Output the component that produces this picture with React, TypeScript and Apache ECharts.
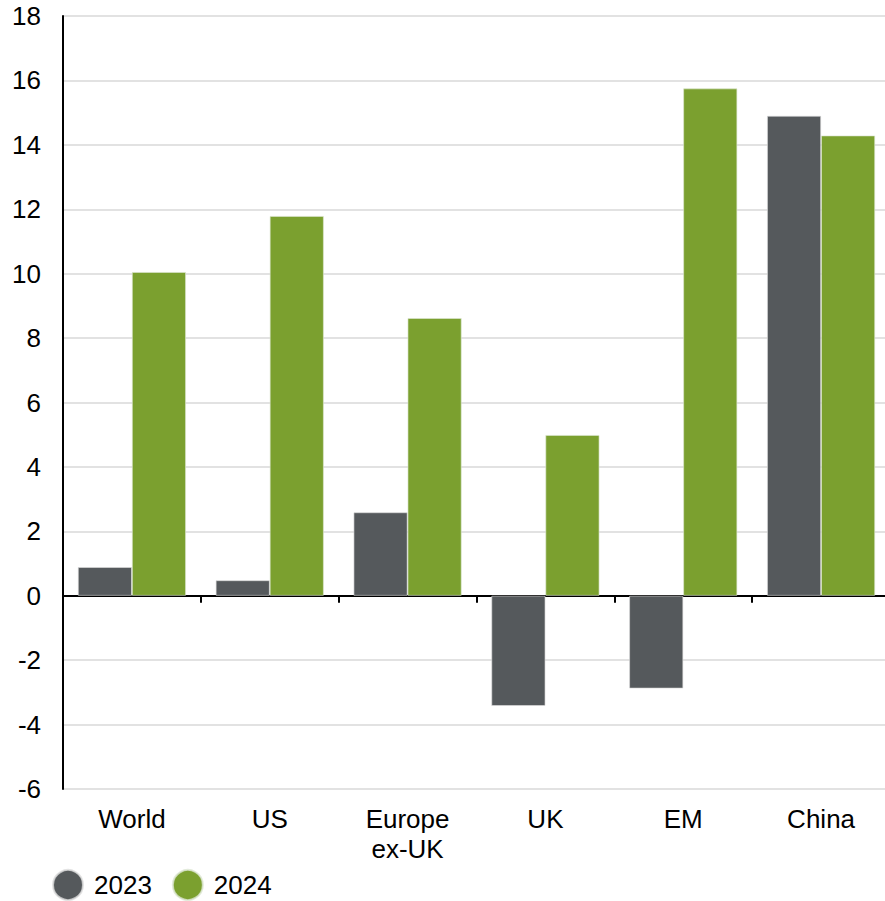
import React, { useEffect, useRef } from "react";
import * as echarts from "echarts";

const categories = ["World", "US", "Europe\nex-UK", "UK", "EM", "China"];
const series2023 = [0.89, 0.48, 2.59, -3.42, -2.88, 14.9];
const series2024 = [10.05, 11.79, 8.62, 4.99, 15.75, 14.29];
const seriesNames = ["2023", "2024"];
const yTicks = { min: -6, max: 18, interval: 2 };

const FONT = "'Liberation Sans', Arial, Helvetica, sans-serif";
const GRAY = "#55595c";
const GREEN = "#7ba02f";

export default function App() {
  const ref = useRef<HTMLDivElement>(null);
  useEffect(() => {
    if (!ref.current) return;
    const chart = echarts.init(ref.current, null, { renderer: "svg" });
    chart.setOption({
      animation: false,
      textStyle: { fontFamily: FONT },
      grid: { left: 63, top: 16, width: 827, height: 773, containLabel: false },
      legend: {
        left: 47,
        top: 864,
        icon: "circle",
        itemWidth: 30,
        itemHeight: 30,
        itemGap: 20,
        data: seriesNames,
        textStyle: { fontSize: 26, color: "#000", fontFamily: FONT, padding: [0, 0, 0, 6] },
      },
      xAxis: [
        {
          type: "category",
          data: categories,
          axisLine: { onZero: true, lineStyle: { color: "#000", width: 2 } },
          axisTick: { show: true, length: 7, lineStyle: { color: "#000", width: 2 } },
          axisLabel: { show: false },
          splitLine: { show: false },
        },
        {
          type: "category",
          data: categories,
          position: "bottom",
          axisLine: { show: false, onZero: false },
          axisTick: { show: false },
          axisLabel: {
            show: true,
            fontSize: 26,
            color: "#000",
            fontFamily: FONT,
            margin: 15,
            lineHeight: 30,
            interval: 0,
          },
        },
      ],
      yAxis: {
        type: "value",
        min: yTicks.min,
        max: yTicks.max,
        interval: yTicks.interval,
        axisLine: { show: true, lineStyle: { color: "#000", width: 2 } },
        axisTick: { show: false },
        axisLabel: { fontSize: 26, color: "#000", fontFamily: FONT, margin: 22 },
        splitLine: { show: true, lineStyle: { color: "#d9d9d9", width: 1.5 } },
      },
      series: [
        {
          name: seriesNames[0],
          type: "bar",
          xAxisIndex: 0,
          data: series2023,
          barGap: "0%",
          barCategoryGap: "21.6%",
          itemStyle: { color: GRAY, borderColor: "rgba(220,220,220,0.8)", borderWidth: 0.8 },
        },
        {
          name: seriesNames[1],
          type: "bar",
          xAxisIndex: 0,
          data: series2024,
          barGap: "0%",
          barCategoryGap: "21.6%",
          itemStyle: { color: GREEN, borderColor: "rgba(220,230,210,0.8)", borderWidth: 0.8 },
        },
      ],
    });
    return () => chart.dispose();
  }, []);
  return (
    <div style={{ width: 885, height: 901, position: "absolute", left: 0, top: 0, overflow: "hidden" }}>
      <div ref={ref} style={{ width: 900, height: 901 }} />
    </div>
  );
}
